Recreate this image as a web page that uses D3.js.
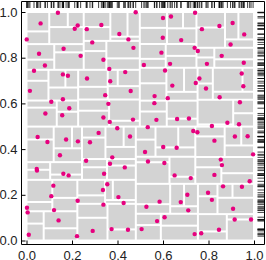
<!DOCTYPE html>
<html>
  <head>
    <meta charset="utf-8"/>
    <script src="https://cdn.jsdelivr.net/npm/d3@7"></script>
    <style>
      body { margin: 0; background: #fff; }
      text { font-family: "Liberation Sans", Arial, sans-serif; }
    </style>
  </head>
  <body>
    <svg id="target"></svg>
  </body>
  <script>
    // point positions
    var xs = [0.138, 0.062, 0.001, 0.225, 0.212, 0.265, 0.329, 0.408, 0.448, 0.289,
              0.163, 0.055, 0.238, 0.081, 0.338, 0.033, 0.364, 0.434, 0.160, 0.182,
              0.266, 0.368, 0.015, 0.458, 0.346, 0.160, 0.109, 0.360, 0.188, 0.083,
              0.157, 0.338, 0.366, 0.399, 0.468, 0.480, 0.600, 0.635, 0.741, 0.771,
              0.848, 0.906, 0.957, 0.599, 0.680, 0.470, 0.739, 0.753, 0.897, 0.593,
              0.858, 0.516, 0.631, 0.793, 0.955, 0.609, 0.946, 0.760, 0.744, 0.641,
              0.789, 0.953, 0.563, 0.621, 0.849, 0.562, 0.938, 0.571, 0.662, 0.714,
              0.883, 0.934, 0.533, 0.815, 0.733, 0.751, 0.049, 0.092, 0.174, 0.226,
              0.317, 0.279, 0.455, 0.147, 0.262, 0.377, 0.367, 0.432, 0.045, 0.046,
              0.162, 0.185, 0.341, 0.355, 0.118, 0.336, 0.109, 0.404, 0.225, 0.427,
              0.338, 0.002, 0.005, 0.121, 0.141, 0.374, 0.291, 0.446, 0.010, 0.222,
              0.826, 0.916, 0.972, 0.521, 0.601, 0.660, 0.996, 0.534, 0.606, 0.854,
              0.859, 0.651, 0.722, 0.826, 0.981, 0.864, 0.947, 0.707, 0.798, 0.815,
              0.585, 0.678, 0.527, 0.711, 0.908, 0.607, 0.574, 0.915, 0.987, 0.506,
              0.739, 0.768, 0.846];
    var ys = [0.997, 0.950, 0.880, 0.941, 0.927, 0.925, 0.943, 0.904, 0.880, 0.867,
              0.839, 0.817, 0.808, 0.766, 0.791, 0.743, 0.751, 0.737, 0.727, 0.721,
              0.709, 0.697, 0.655, 0.654, 0.636, 0.618, 0.607, 0.598, 0.579, 0.556,
              0.548, 0.538, 0.519, 0.491, 0.529, 0.999, 0.974, 0.980, 0.997, 0.925,
              0.939, 0.952, 0.902, 0.887, 0.877, 0.843, 0.843, 0.829, 0.858, 0.822,
              0.808, 0.768, 0.773, 0.773, 0.778, 0.744, 0.731, 0.709, 0.689, 0.678,
              0.665, 0.675, 0.632, 0.623, 0.627, 0.601, 0.605, 0.528, 0.532, 0.534,
              0.515, 0.509, 0.496, 0.501, 0.479, 0.474, 0.453, 0.431, 0.442, 0.434,
              0.471, 0.430, 0.455, 0.373, 0.349, 0.364, 0.336, 0.320, 0.313, 0.306,
              0.292, 0.285, 0.292, 0.246, 0.240, 0.221, 0.194, 0.190, 0.174, 0.164,
              0.157, 0.143, 0.123, 0.133, 0.088, 0.050, 0.042, 0.047, 0.025, 0.019,
              0.437, 0.455, 0.456, 0.387, 0.409, 0.406, 0.377, 0.346, 0.339, 0.354,
              0.330, 0.285, 0.273, 0.287, 0.259, 0.237, 0.235, 0.200, 0.209, 0.178,
              0.170, 0.168, 0.148, 0.132, 0.139, 0.102, 0.085, 0.092, 0.092, 0.050,
              0.028, 0.032, 0.047];
    var tickValues = [0, 0.2, 0.4, 0.6, 0.8, 1.0];

    var width = 266, height = 260;
    var svg = d3.select( "#target" ).attr( "width", width ).attr( "height", height );
    var xScale = d3.scaleLinear().domain( [0, 1] ).range( [26.5, 254] );
    var yScale = d3.scaleLinear().domain( [0, 1] ).range( [240.5, 12] );
    var points = xs.map( (v, i) => [v, ys[i]] );

    // kd-tree cells: median split, alternating axis, one point per leaf
    var cells = [];
    function split( pts, x0, x1, y0, y1, depth ) {
      if ( pts.length <= 1 ) { cells.push( [x0, x1, y0, y1] ); return; }
      var k = depth % 2 === 0 ? 1 : 0;
      pts = pts.slice().sort( (a, b) => a[k] - b[k] );
      var m = Math.floor( pts.length / 2 );
      var s = ( pts[m - 1][k] + pts[m][k] ) / 2;
      if ( k === 0 ) {
        split( pts.slice( 0, m ), x0, s, y0, y1, depth + 1 );
        split( pts.slice( m ), s, x1, y0, y1, depth + 1 );
      } else {
        split( pts.slice( 0, m ), x0, x1, y0, s, depth + 1 );
        split( pts.slice( m ), x0, x1, s, y1, depth + 1 );
      }
    }
    split( points, 0, 1, 0, 1, 0 );

    svg.append( "g" ).selectAll( "rect" ).data( cells )
      .enter().append( "rect" )
        .attr( "x", d => xScale( d[0] ) + 1 )
        .attr( "y", d => yScale( d[3] ) + 1 )
        .attr( "width", d => Math.max( 0, xScale( d[1] ) - xScale( d[0] ) - 2 ) )
        .attr( "height", d => Math.max( 0, yScale( d[2] ) - yScale( d[3] ) - 2 ) )
        .attr( "fill", "#d3d3d3" );

    svg.append( "g" ).selectAll( "circle" ).data( points )
      .enter().append( "circle" )
        .attr( "cx", d => xScale( d[0] ) )
        .attr( "cy", d => yScale( d[1] ) )
        .attr( "r", 2.2 )
        .attr( "fill", "#e6007e" );

    // rugs
    svg.append( "g" ).selectAll( "line" ).data( xs )
      .enter().append( "line" )
        .attr( "x1", d => xScale( d ) ).attr( "x2", d => xScale( d ) )
        .attr( "y1", 1.5 ).attr( "y2", 8 )
        .attr( "stroke", "#000" ).attr( "stroke-opacity", 0.75 );
    svg.append( "g" ).selectAll( "line" ).data( ys )
      .enter().append( "line" )
        .attr( "y1", d => yScale( d ) ).attr( "y2", d => yScale( d ) )
        .attr( "x1", 257.5 ).attr( "x2", 264.5 )
        .attr( "stroke", "#000" ).attr( "stroke-opacity", 0.75 );

    var axisX = d3.axisBottom( xScale ).tickValues( tickValues ).tickFormat( d3.format( ".1f" ) )
      .tickSizeInner( -4 ).tickSizeOuter( 0 ).tickPadding( 6.5 );
    var axisY = d3.axisLeft( yScale ).tickValues( tickValues ).tickFormat( d3.format( ".1f" ) )
      .tickSizeInner( -4 ).tickSizeOuter( 0 ).tickPadding( 4 );

    var gx = svg.append( "g" ).attr( "transform", "translate(0,244.5)" ).call( axisX );
    var gy = svg.append( "g" ).attr( "transform", "translate(21.5,0)" ).call( axisY );
    [gx, gy].forEach( g => {
      g.select( ".domain" ).remove();
      g.selectAll( "text" ).attr( "font-size", 13 ).attr( "font-family", null ).attr( "fill", "#222" );
    } );

    svg.append( "path" )
      .attr( "d", "M21.5,244.5V1.5H264.5V244.5H21.5" )
      .attr( "fill", "none" ).attr( "stroke", "#000" );
  </script>
</html>
